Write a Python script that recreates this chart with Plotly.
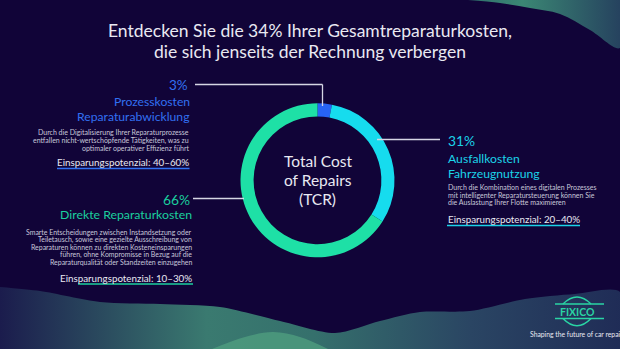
import plotly.graph_objects as go

# ---------------- data ----------------
categories = ["Prozesskosten<br>Reparaturabwicklung", "Ausfallkosten<br>Fahrzeugnutzung", "Direkte Reparaturkosten"]
shares = [3, 31, 66]
savings = ["40–60%", "20–40%", "10–30%"]
descriptions = [
    "Durch die Digitalisierung Ihrer Reparaturprozesse<br>entfallen nicht-wertschöpfende Tätigkeiten, was zu<br>optimaler operativer Effizienz führt",
    "Durch die Kombination eines digitalen Prozesses<br>mit intelligenter Reparatursteuerung können Sie<br>die Auslastung Ihrer Flotte maximieren",
    "Smarte Entscheidungen zwischen Instandsetzung oder<br>Teiletausch, sowie eine gezielte Ausschreibung von<br>Reparaturen können zu direkten Kosteneinsparungen<br>führen, ohne Kompromisse in Bezug auf die<br>Reparaturqualität oder Standzeiten einzugehen",
]
title_text = "Entdecken Sie die 34% Ihrer Gesamtreparaturkosten,<br>die sich jenseits der Rechnung verbergen"
center_text = "Total Cost<br>of Repairs<br>(TCR)"

# ---------------- style ----------------
W, H = 620, 349
BG = "#110438"
ring_colors = ["#2764f5", "#16dcee", "#1ee0a6"]
text_colors = ["#3170f2", "#1bd3e8", "#1bcf9e"]
FONT = "Lato"
LIGHT = "#e9e9f2"
DESC = "#c9c8da"
LEADER = "#d6d6e4"

cx, cy, R = 317.5, 180.3, 77.0

fig = go.Figure()

# decorative waves (background)
bottom_wave = [(0, 287), (40, 291), (100, 302), (160, 304), (220, 307), (280, 321), (335, 333),
               (380, 321), (420, 312), (470, 311), (525, 299), (575, 294), (620, 292),
               (620, 349), (0, 349)]
fig.add_trace(go.Scatter(
    x=[p[0] for p in bottom_wave], y=[p[1] for p in bottom_wave],
    mode="lines", fill="toself", line=dict(width=0, shape="spline", smoothing=0.8),
    fillgradient=dict(type="horizontal", colorscale=[[0, "#1b1c4d"], [0.33, "#3a7a70"], [0.5, "#35706c"],
                                                     [0.75, "#2a4563"], [1, "#1f2b56"]]),
    hoverinfo="skip", showlegend=False))
hump = [(212, 349), (245, 337), (273, 332), (300, 337), (328, 349)]
fig.add_trace(go.Scatter(
    x=[p[0] for p in hump], y=[p[1] for p in hump],
    mode="lines", fill="toself", line=dict(width=0, shape="spline"),
    fillcolor="rgba(80,160,128,0.75)", hoverinfo="skip", showlegend=False))
top_wave = [(468, 0), (500, 3), (530, 8), (560, 14), (590, 30), (620, 48), (620, 0)]
fig.add_trace(go.Scatter(
    x=[p[0] for p in top_wave], y=[p[1] for p in top_wave],
    mode="lines", fill="toself", line=dict(width=0, shape="spline"),
    fillgradient=dict(type="horizontal", colorscale=[[0, "#2f6f6c"], [0.35, "#3b8774"], [1, "#25405e"]]),
    hoverinfo="skip", showlegend=False))

# donut
fig.add_trace(go.Pie(
    labels=categories, values=shares, sort=False, direction="clockwise", rotation=0,
    hole=0.83, marker=dict(colors=ring_colors, line=dict(width=0)),
    textinfo="none", hoverinfo="skip", showlegend=False,
    domain=dict(x=[(cx - R) / W, (cx + R) / W], y=[1 - (cy + R) / H, 1 - (cy - R) / H]),
))

ann = []
def A(x, y, text, size, color, xanchor="center"):
    ann.append(dict(x=x, y=y, xref="x", yref="y", text=text, showarrow=False,
                    xanchor=xanchor, yanchor="middle", borderpad=0,
                    font=dict(family=FONT, size=size, color=color)))

def ML(x, y0, text, size, color, spacing, xanchor="center"):
    # multi-line text, one annotation per line for exact line spacing
    for i, line in enumerate(text.split("<br>")):
        A(x, y0 + i * spacing, line, size, color, xanchor)

# title
ML(310, 30, title_text, 17.5, LIGHT, 21)
# center
ML(cx, 161.4, center_text, 15.5, LIGHT, 18.7)

# block 1 (3%) right aligned
A(189, 85, f"{shares[0]}%", 13.5, text_colors[0], xanchor="right")
ML(190.5, 101.6, categories[0], 12.2, text_colors[0], 14.7, xanchor="right")
ML(190, 132, descriptions[0], 7.0, DESC, 8.2, xanchor="right")
A(190, 162, f"Einsparungspotenzial: {savings[0]}", 9.8, LIGHT, xanchor="right")

# block 3 (66%) right aligned
A(191, 199, f"{shares[2]}%", 13.8, text_colors[2], xanchor="right")
A(193, 214.5, categories[2], 12.3, text_colors[2], xanchor="right")
ML(193, 231.7, descriptions[2], 6.95, DESC, 7.65, xanchor="right")
A(193, 277.5, f"Einsparungspotenzial: {savings[2]}", 9.8, LIGHT, xanchor="right")

# block 2 (31%) left aligned
A(447, 140, f"{shares[1]}%", 13.8, text_colors[1], xanchor="left")
ML(447, 158.5, categories[1], 12.2, text_colors[1], 14.7, xanchor="left")
ML(447, 187, descriptions[1], 7.0, DESC, 7.6, xanchor="left")
A(447, 219, f"Einsparungspotenzial: {savings[1]}", 9.8, LIGHT, xanchor="left")

# logo
ann.append(dict(x=577, y=311.5, xref="x", yref="y", text="<b>FIXICO</b>", showarrow=False,
                font=dict(family=FONT, size=10.5, color="#2ad4a4")))
A(529, 333.5, "Shaping the future of car repair", 6.8, LIGHT, xanchor="left")

shapes = []
def L(x0, y0, x1, y1, color, width):
    shapes.append(dict(type="line", xref="x", yref="y", x0=x0, y0=y0, x1=x1, y1=y1,
                       line=dict(color=color, width=width), layer="above"))

# leader lines
L(195, 84.5, 322.5, 84.5, LEADER, 1.3)
L(322.5, 84.5, 322.5, 106, LEADER, 1.3)
L(377, 139.5, 440, 139.5, LEADER, 1.3)
L(193, 198.5, 244, 198.5, LEADER, 1.3)
# underlines
L(57, 168.5, 189.5, 168.5, text_colors[0], 1.5)
L(78, 284, 193, 284, text_colors[2], 1.5)
L(447, 225.5, 580, 225.5, text_colors[1], 1.5)
# logo lines
LOGO = "#2ad4a4"
L(555, 304, 604, 304, LOGO, 1.6)
L(555, 318.5, 604, 318.5, LOGO, 1.6)
shapes.append(dict(type="path", xref="x", yref="y", path="M 563 304 Q 577 290 591 304",
                   line=dict(color=LOGO, width=1.6)))
shapes.append(dict(type="path", xref="x", yref="y", path="M 563 318.5 Q 577 333 591 318.5",
                   line=dict(color=LOGO, width=1.6)))

fig.update_layout(
    width=W, height=H, margin=dict(l=0, r=0, t=0, b=0),
    paper_bgcolor=BG, plot_bgcolor=BG,
    xaxis=dict(range=[0, W], visible=False, fixedrange=True, domain=[0, 1]),
    yaxis=dict(range=[H, 0], visible=False, fixedrange=True, domain=[0, 1]),
    annotations=ann, shapes=shapes, showlegend=False,
)

fig.write_html("out.html")
